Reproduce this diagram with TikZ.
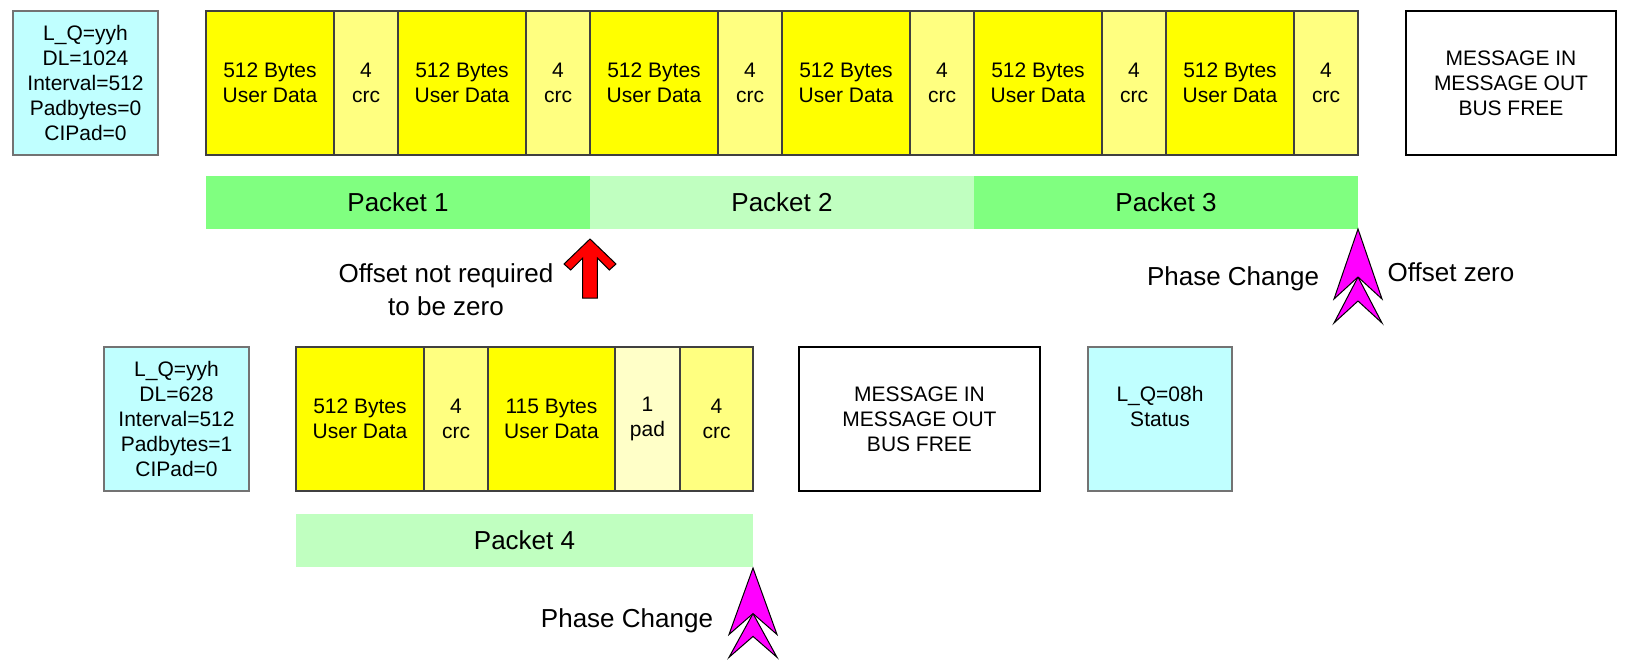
\documentclass[tikz,border=0pt]{standalone}
\usepackage{fontspec}
\setmainfont{Liberation Sans}
\usetikzlibrary{calc}
\definecolor{dyel}{HTML}{FFFF00}
\definecolor{lyel}{HTML}{FFFF80}
\definecolor{pyel}{HTML}{FFFFC8}
\definecolor{cyanbox}{HTML}{C0FFFF}
\definecolor{gbright}{HTML}{80FF80}
\definecolor{glight}{HTML}{C0FFC0}
\definecolor{mag}{HTML}{FF00FF}
\begin{document}
\begin{tikzpicture}[x=1pt,y=-1pt,
 box/.style={anchor=north west, minimum height=144pt, inner sep=0pt, outer sep=0pt, align=center, font=\fontsize{21}{24.8}\selectfont},
 cellbox/.style={box, draw=black!75, line width=1.3pt},
 datacell/.style={cellbox, fill=dyel, minimum width=128pt},
 crccell/.style={cellbox, fill=lyel, minimum width=64pt},
 padcell/.style={cellbox, fill=pyel},
 infobox/.style={box, draw=black!55, line width=1.3pt, fill=cyanbox, minimum width=145pt},
 msgbox/.style={box, draw=black, line width=2.5pt, fill=white},
 packet/.style={anchor=north west, minimum height=53pt, inner sep=0pt, outer sep=0pt, font=\fontsize{26}{30}\selectfont},
 lbl/.style={font=\fontsize{26}{33.4}\selectfont, align=center, inner sep=0pt},
 redarrow/.style={fill=red, draw=black, line width=1pt, line join=miter},
 phasearrow/.style={fill=mag, draw=black, line width=1pt, line join=miter}]

\useasboundingbox (0,0) rectangle (1625,662);

% ---------- top row ----------
\node[infobox] (i1) at (13,11) {L\_Q=yyh\\DL=1024\\Interval=512\\Padbytes=0\\CIPad=0};
\foreach \i in {1,...,6} {
  \node[datacell] (d\i) at ({206+192*(\i-1)},11) {512 Bytes\\User Data};
  \node[crccell] (c\i) at ({334+192*(\i-1)},11) {4\\crc};
}
\node[msgbox, minimum width=210pt] (m1) at (1406,11) {MESSAGE IN\\MESSAGE OUT\\BUS FREE};

\node[packet, fill=gbright, minimum width=384pt] (p1) at (206,176) {Packet 1};
\node[packet, fill=glight, minimum width=384pt] (p2) at (590,176) {Packet 2};
\node[packet, fill=gbright, minimum width=384pt] (p3) at (974,176) {Packet 3};

% red arrow
\coordinate (rt) at ([yshift=-10pt]p1.south east);
\begin{scope}[shift={(rt)}]
  \draw[redarrow] (0,0) -- (26,25) -- (19.3,31) -- (7.3,19) -- (7.3,59) -- (-7.3,59)
    -- (-7.3,19) -- (-19.3,31) -- (-26,25) -- cycle;
\end{scope}
\node[lbl] (t1) at (446,290) {Offset not required\\to be zero};

% phase change arrow (top)
\coordinate (pt1) at (p3.south east);
\begin{scope}[shift={(pt1)}]
  \draw[phasearrow] (0,48) -- (24,94) -- (0,72) -- (-24,94) -- cycle;
  \draw[phasearrow] (0,0) -- (24,70) -- (0,48) -- (-24,70) -- cycle;
\end{scope}
\node[lbl] (t2) at (1233,279) {Phase Change};
\node[lbl] (t3) at (1451,272) {Offset zero};

% ---------- bottom row ----------
\node[infobox] (i2) at (104,347) {L\_Q=yyh\\DL=628\\Interval=512\\Padbytes=1\\CIPad=0};
\node[datacell] (d7) at (296,347) {512 Bytes\\User Data};
\node[crccell] (c7) at (424,347) {4\\crc};
\node[datacell, minimum width=127pt] (d8) at (488,347) {115 Bytes\\User Data};
\node[padcell, minimum width=65pt] (pd) at (615,347) {1\\pad};
\node[crccell, minimum width=73pt] (c8) at (680,347) {4\\crc};
\node[msgbox, minimum width=241pt] (m2) at (799,347) {MESSAGE IN\\MESSAGE OUT\\BUS FREE};
\node[infobox, minimum width=144pt] (st) at (1088,347) {L\_Q=08h\\Status\\\phantom{S}};

\node[packet, fill=glight, minimum width=457pt] (p4) at (296,514) {Packet 4};

% phase change arrow (bottom)
\coordinate (pt2) at ([yshift=-1pt]p4.south east);
\begin{scope}[shift={(pt2)}, yscale=0.95]
  \draw[phasearrow] (0,48) -- (24,94) -- (0,72) -- (-24,94) -- cycle;
  \draw[phasearrow] (0,0) -- (24,70) -- (0,48) -- (-24,70) -- cycle;
\end{scope}
\node[lbl] (t4) at (627,621) {Phase Change};
\end{tikzpicture}
\end{document}
